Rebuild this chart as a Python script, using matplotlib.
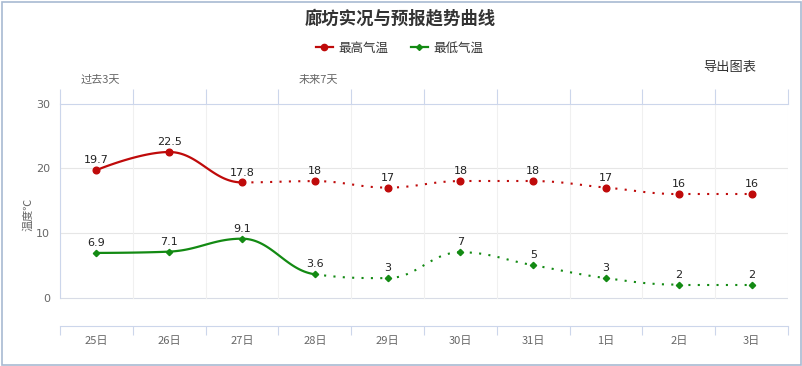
import numpy as np
import matplotlib
matplotlib.use("Agg")
import matplotlib.pyplot as plt
from matplotlib.lines import Line2D
from matplotlib.patches import Rectangle

plt.rcParams["font.family"] = ["Noto Sans CJK SC", "DejaVu Sans"]

DAYS = ["25日", "26日", "27日", "28日", "29日", "30日", "31日", "1日", "2日", "3日"]
HIGH = [19.7, 22.5, 17.8, 18, 17, 18, 18, 17, 16, 16]
LOW = [6.9, 7.1, 9.1, 3.6, 3, 7, 5, 3, 2, 2]
HIGH_OBSERVED = 3   # first n points drawn solid
LOW_OBSERVED = 4

RED = "#bf0a0a"
GREEN = "#138a13"
AXIS = "#ccd6eb"
GRID = "#e6e6e6"


def spline_controls(xs, ys, smoothing=1.5):
    """Highcharts-style spline control points."""
    n = len(xs)
    lc = [(x, y) for x, y in zip(xs, ys)]
    rc = [(x, y) for x, y in zip(xs, ys)]
    denom = smoothing + 1
    for i in range(1, n - 1):
        px, py = xs[i], ys[i]
        lx, ly = xs[i - 1], ys[i - 1]
        nx, ny = xs[i + 1], ys[i + 1]
        lcx = (smoothing * px + lx) / denom
        lcy = (smoothing * py + ly) / denom
        rcx = (smoothing * px + nx) / denom
        rcy = (smoothing * py + ny) / denom
        if rcx != lcx:
            corr = ((rcy - lcy) * (rcx - px)) / (rcx - lcx) + py - rcy
            lcy += corr
            rcy += corr
        if lcy > ly and lcy > py:
            lcy = max(ly, py)
            rcy = 2 * py - lcy
        elif lcy < ly and lcy < py:
            lcy = min(ly, py)
            rcy = 2 * py - lcy
        if rcy > ny and rcy > py:
            rcy = max(ny, py)
            lcy = 2 * py - rcy
        elif rcy < ny and rcy < py:
            rcy = min(ny, py)
            lcy = 2 * py - rcy
        lc[i] = (lcx, lcy)
        rc[i] = (rcx, rcy)
    return lc, rc


def segment(xs, ys, lc, rc, i, num=40):
    t = np.linspace(0, 1, num)
    p0 = np.array([xs[i], ys[i]])
    p1 = np.array(rc[i])
    p2 = np.array(lc[i + 1])
    p3 = np.array([xs[i + 1], ys[i + 1]])
    pts = ((1 - t) ** 3)[:, None] * p0 + (3 * (1 - t) ** 2 * t)[:, None] * p1 \
        + (3 * (1 - t) * t ** 2)[:, None] * p2 + (t ** 3)[:, None] * p3
    return pts[:, 0], pts[:, 1]


fig = plt.figure(figsize=(8.02, 3.66), dpi=100)
ax = fig.add_axes([60 / 802, (366 - 326) / 366, 728 / 802, (326 - 103.5) / 366])

x = list(range(len(DAYS)))
ax.set_xlim(-0.5, len(DAYS) - 0.5)
ax.set_ylim(-4.4, 30)

# grid
for yv in (0, 10, 20):
    ax.axhline(yv, color=GRID if yv else "#d8dce6", lw=0.8, zorder=0)
for b in np.arange(-0.5, len(DAYS), 1.0):
    ax.plot([b, b], [0, 30], color="#f0f0f0", lw=0.8, zorder=0)

for name, vals, color, marker, ms, n_obs in (
    ("最高气温", HIGH, RED, "o", 4.8, HIGH_OBSERVED),
    ("最低气温", LOW, GREEN, "D", 3.2, LOW_OBSERVED),
):
    lc, rc = spline_controls(x, vals)
    for i in range(len(x) - 1):
        sx, sy = segment(x, vals, lc, rc, i)
        if i < n_obs - 1:
            ax.plot(sx, sy, color=color, lw=1.6, zorder=2, solid_capstyle="round")
        else:
            ax.plot(sx, sy, color=color, lw=1.5, ls=(0, (1, 3.5)), zorder=2)
    ax.plot(x, vals, ls="none", marker=marker, ms=ms, color=color, zorder=3)
    for xi, v in zip(x, vals):
        ax.annotate(f"{v:g}", (xi, v), textcoords="offset points", xytext=(0, 3.5),
                    ha="center", va="bottom", fontsize=8, color="#222222",
                    family=["DejaVu Sans"])

# axes styling
ax.spines["right"].set_visible(False)
ax.spines["left"].set_bounds(0, 30)
for s in ("top", "bottom", "left"):
    ax.spines[s].set_color(AXIS)
    ax.spines[s].set_linewidth(0.8)

ax.set_yticks([0, 10, 20, 30])
ax.set_yticklabels(["0", "10", "20", "30"], family=["DejaVu Sans"])
ax.tick_params(axis="y", length=0, pad=7, labelsize=8, labelcolor="#666666")

ax.set_xticks(np.arange(-0.5, len(DAYS), 1.0))
ax.set_xticklabels([])
ax.set_xticks(x, minor=True)
ax.set_xticklabels(DAYS, minor=True)
ax.tick_params(axis="x", which="major", direction="out", color=AXIS,
               width=0.8, top=True, bottom=True)
ax.tick_params(axis="x", which="minor", length=0, pad=7, labelsize=8,
               labelcolor="#666666")
# bottom ticks shorter than top ticks
for t in ax.xaxis.get_major_ticks():
    t.tick1line.set_markersize(6.5)
    t.tick2line.set_markersize(10.5)

ax.set_ylabel("温度℃", fontsize=8, color="#666666", labelpad=2)

# titles and annotations
fig.text(400 / 802, 1 - 18 / 366, "廊坊实况与预报趋势曲线", ha="center", va="center",
         fontsize=12.5, fontweight="bold", color="#333333")
fig.text(730 / 802, 1 - 67 / 366, "导出图表", ha="center", va="center",
         fontsize=9.5, color="#333333")
fig.text(100 / 802, 1 - 80 / 366, "过去3天", ha="center", va="center",
         fontsize=8, color="#666666")
fig.text(318 / 802, 1 - 80 / 366, "未来7天", ha="center", va="center",
         fontsize=8, color="#666666")

handles = [
    Line2D([0], [0], color=RED, lw=1.6, marker="o", ms=4.5, label="最高气温"),
    Line2D([0], [0], color=GREEN, lw=1.6, marker="D", ms=3, label="最低气温"),
]
fig.legend(handles=handles, loc="center", bbox_to_anchor=(400 / 802, 1 - 48 / 366),
           ncol=2, frameon=False, fontsize=9, handlelength=1.3, handletextpad=0.5,
           columnspacing=1.8, labelcolor="#333333")

fig.patches.append(Rectangle((1.5 / 802, 1.5 / 366), 799 / 802, 363 / 366,
                             transform=fig.transFigure, fill=False,
                             edgecolor="#a8bad2", lw=1.2))

fig.savefig("out.png", dpi=100)
